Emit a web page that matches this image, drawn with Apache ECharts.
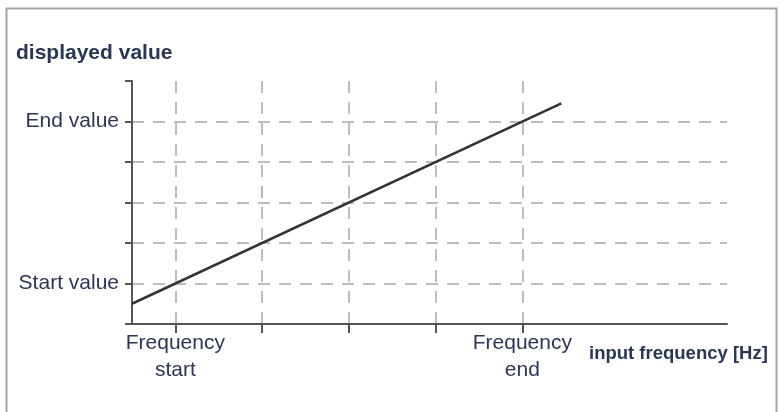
<!DOCTYPE html>
<html>
<head>
<meta charset="utf-8">
<script src="https://cdn.jsdelivr.net/npm/echarts@6/dist/echarts.min.js"></script>
<style>html,body{margin:0;padding:0;background:#fff}#c{width:779px;height:412px}</style>
</head>
<body>
<div id="c"></div>
<script>
// ---- data ----
const yTitle = 'displayed value';
const xTitle = 'input frequency [Hz]';
const xTickValues = [1, 2, 3, 4, 5];
const xLabelValues = [1, 5];
const xLabels = ['Frequency\nstart', 'Frequency\nend'];
const yLabelValues = [1, 5];
const yLabels = ['Start value', 'End value'];
const lineX = [0.5, 5.45];
const lineY = [0.5, 5.45];

const textColor = '#2b3556';
const font = '"Liberation Sans", Arial, sans-serif';

const chart = echarts.init(document.getElementById('c'), null, {renderer: 'canvas'});
chart.setOption({
  animation: false,
  backgroundColor: '#fff',
  title: [
    {text: yTitle, left: 11, top: 38, textStyle: {fontFamily: font, fontSize: 21, fontWeight: 'bold', color: textColor}},
    {text: xTitle, left: 584, top: 339, textStyle: {fontFamily: font, fontSize: 18.5, fontWeight: 'bold', color: textColor}}
  ],
  graphic: [{
    type: 'rect', left: 4, top: 6, silent: true,
    shape: {width: 770, height: 430},
    style: {fill: 'none', stroke: '#a3a3a3', lineWidth: 2}
  }],
  grid: {left: 132, right: 52, top: 81, bottom: 88, containLabel: false},
  xAxis: {
    type: 'value', min: 0.5, max: 7.36,
    axisLine: {show: true, lineStyle: {color: '#555', width: 2}},
    axisTick: {show: true, customValues: xTickValues, length: 9, lineStyle: {color: '#555', width: 2}},
    axisLabel: {
      show: true, customValues: xLabelValues, margin: 6,
      fontFamily: font, fontSize: 21, lineHeight: 27, color: textColor, align: 'center',
      formatter: function (v) { const i = xLabelValues.indexOf(v); return i >= 0 ? xLabels[i] : ''; }
    },
    splitLine: {show: true, showMinLine: true, showMaxLine: true, lineStyle: {color: '#a8a8a8', width: 1.5, type: [12, 9]}}
  },
  yAxis: {
    type: 'value', min: 0, max: 6, interval: 1,
    axisLine: {show: true, lineStyle: {color: '#555', width: 2}},
    axisTick: {show: true, length: 7, lineStyle: {color: '#555', width: 2}},
    axisLabel: {
      show: true, margin: 13, fontFamily: font, fontSize: 21, color: textColor,
      formatter: function (v) { const i = yLabelValues.indexOf(v); return i >= 0 ? yLabels[i] : ''; }
    },
    splitLine: {show: true, showMinLine: false, showMaxLine: false, lineStyle: {color: '#a8a8a8', width: 1.5, type: [12, 9]}}
  },
  series: [{
    type: 'line',
    data: lineX.map((x, i) => [x, lineY[i]]),
    symbol: 'none',
    lineStyle: {color: '#333', width: 2.5}
  }]
});
</script>
</body>
</html>
